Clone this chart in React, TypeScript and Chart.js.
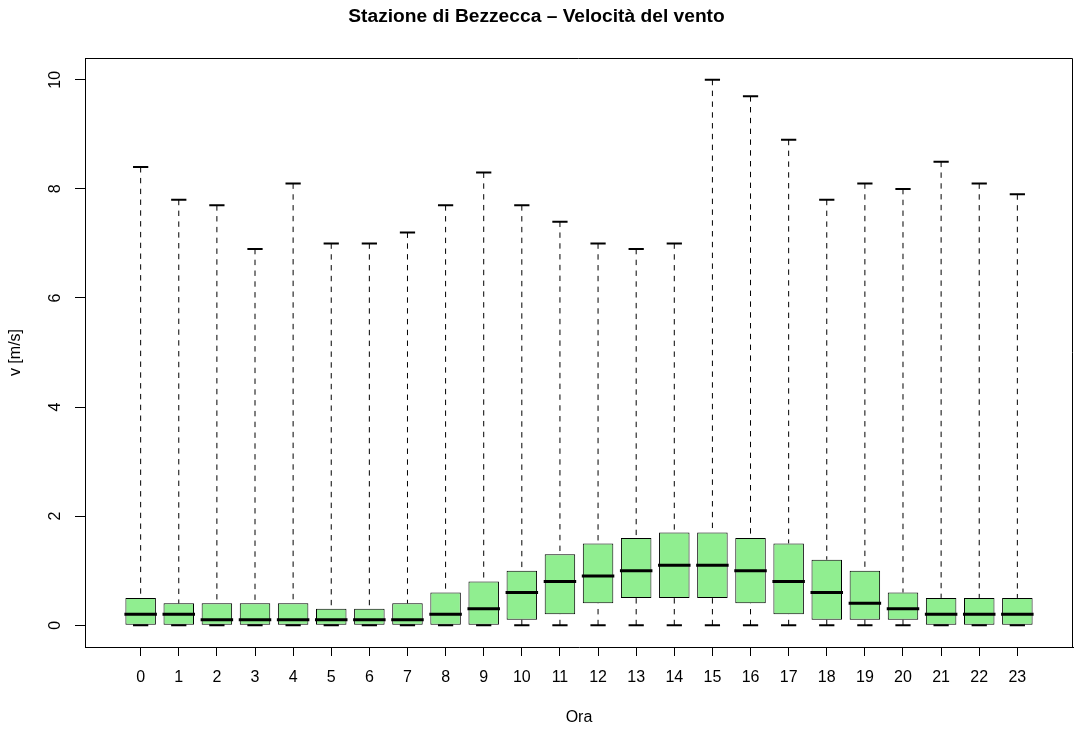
import React, { useEffect, useRef } from 'react';
import { Chart, registerables } from 'chart.js';

Chart.register(...registerables);

// ---- data ----
const hours = ['0', '1', '2', '3', '4', '5', '6', '7', '8', '9', '10', '11', '12', '13', '14', '15', '16', '17', '18', '19', '20', '21', '22', '23'];
const whiskerLow = [0, 0, 0, 0, 0, 0, 0, 0, 0, 0, 0, 0, 0, 0, 0, 0, 0, 0, 0, 0, 0, 0, 0, 0];
const q1 = [0, 0, 0, 0, 0, 0, 0, 0, 0, 0, 0.1, 0.2, 0.4, 0.5, 0.5, 0.5, 0.4, 0.2, 0.1, 0.1, 0.1, 0, 0, 0];
const median = [0.2, 0.2, 0.1, 0.1, 0.1, 0.1, 0.1, 0.1, 0.2, 0.3, 0.6, 0.8, 0.9, 1.0, 1.1, 1.1, 1.0, 0.8, 0.6, 0.4, 0.3, 0.2, 0.2, 0.2];
const q3 = [0.5, 0.4, 0.4, 0.4, 0.4, 0.3, 0.3, 0.4, 0.6, 0.8, 1.0, 1.3, 1.5, 1.6, 1.7, 1.7, 1.6, 1.5, 1.2, 1.0, 0.6, 0.5, 0.5, 0.5];
const whiskerHigh = [8.4, 7.8, 7.7, 6.9, 8.1, 7.0, 7.0, 7.2, 7.7, 8.3, 7.7, 7.4, 7.0, 6.9, 7.0, 10.0, 9.7, 8.9, 7.8, 8.1, 8.0, 8.5, 8.1, 7.9];
const yTicks = [0, 2, 4, 6, 8, 10];

const TITLE = 'Stazione di Bezzecca – Velocità del vento';
const X_TITLE = 'Ora';
const Y_TITLE = 'v [m/s]';

const FONT = "'Liberation Sans', Arial, Helvetica, sans-serif";

const boxPlugin = {
  id: 'boxWhiskers',
  afterDatasetsDraw(chart: any) {
    const { ctx, chartArea } = chart;
    const y = chart.scales.y;
    const meta = chart.getDatasetMeta(0);
    ctx.save();
    ctx.strokeStyle = '#000';
    meta.data.forEach((bar: any, i: number) => {
      const { x, width } = bar.getProps(['x', 'width'], true);
      const yLo = y.getPixelForValue(whiskerLow[i]);
      const yQ1 = y.getPixelForValue(q1[i]);
      const yMed = y.getPixelForValue(median[i]);
      const yQ3 = y.getPixelForValue(q3[i]);
      const yHi = y.getPixelForValue(whiskerHigh[i]);
      // dashed whiskers
      ctx.lineWidth = 1;
      ctx.setLineDash([5.4, 5.4]);
      ctx.beginPath();
      ctx.moveTo(x, yHi);
      ctx.lineTo(x, yQ3);
      if (q1[i] > whiskerLow[i]) {
        ctx.moveTo(x, yLo);
        ctx.lineTo(x, yQ1);
      }
      ctx.stroke();
      ctx.setLineDash([]);
      // staples
      ctx.lineWidth = 2;
      ctx.beginPath();
      ctx.moveTo(x - width / 4, yHi);
      ctx.lineTo(x + width / 4, yHi);
      ctx.moveTo(x - width / 4, yLo);
      ctx.lineTo(x + width / 4, yLo);
      ctx.stroke();
      // median
      ctx.lineWidth = 3;
      ctx.beginPath();
      ctx.moveTo(x - width / 2 - 1, yMed);
      ctx.lineTo(x + width / 2 + 1, yMed);
      ctx.stroke();
    });
    // frame (top and right edges; left & bottom are the axis borders)
    ctx.lineWidth = 1;
    ctx.beginPath();
    const t = Math.round(chartArea.top) + 0.5;
    const r = Math.round(chartArea.right) - 0.5;
    ctx.moveTo(chartArea.left, t);
    ctx.lineTo(r, t);
    ctx.lineTo(r, chartArea.bottom);
    ctx.stroke();
    ctx.restore();
  },
};

export default function App() {
  const ref = useRef<HTMLCanvasElement>(null);

  useEffect(() => {
    const canvas = ref.current;
    if (!canvas) return;
    const chart = new Chart(canvas, {
      type: 'bar',
      data: {
        datasets: [
          {
            data: hours.map((h, i) => ({ x: i, y: [q1[i], q3[i]] })) as any,
            backgroundColor: '#90EE90',
            borderColor: '#000',
            borderWidth: 1,
            borderSkipped: false,
            barPercentage: 0.8,
            categoryPercentage: 1,
          },
        ],
      },
      options: {
        animation: false,
        responsive: false,
        devicePixelRatio: 1,
        events: [],
        layout: { padding: { left: 0, right: 2, top: 0, bottom: 0 } },
        plugins: {
          legend: { display: false },
          tooltip: { enabled: false },
          title: {
            display: true,
            text: TITLE,
            color: '#000',
            font: { family: FONT, size: 19.2, weight: 'bold' },
            padding: { top: 5.5, bottom: 29.5 },
          },
        },
        scales: {
          x: {
            type: 'linear',
            min: -1.46,
            max: 24.46,
            offset: false,
            afterBuildTicks: (scale: any) => {
              scale.ticks = hours.map((_, i) => ({ value: i }));
            },
            afterFit: (scale: any) => {
              scale.height = 89;
            },
            ticks: {
              color: '#000',
              font: { family: FONT, size: 16 },
              padding: 12,
              autoSkip: false,
              maxRotation: 0,
              minRotation: 0,
              callback: (v: any) => hours[v as number],
            },
            grid: {
              offset: false,
              drawOnChartArea: false,
              drawTicks: true,
              tickLength: 9,
              color: '#000',
            },
            border: { display: true, color: '#000', width: 1 },
            title: {
              display: true,
              text: X_TITLE,
              color: '#000',
              font: { family: FONT, size: 16 },
              padding: { top: 0, bottom: 8.9 },
            },
          },
          y: {
            type: 'linear',
            min: -0.4,
            max: 10.4,
            afterBuildTicks: (scale: any) => {
              scale.ticks = yTicks.map((v) => ({ value: v }));
            },
            afterFit: (scale: any) => {
              scale.width = 85;
            },
            ticks: {
              color: '#000',
              font: { family: FONT, size: 16 },
              padding: 11,
              minRotation: 90,
              maxRotation: 90,
              crossAlign: 'center',
              callback: (v: any) => String(v),
            },
            grid: {
              drawOnChartArea: false,
              drawTicks: true,
              tickLength: 10,
              color: '#000',
            },
            border: { display: true, color: '#000', width: 1 },
            title: {
              display: true,
              text: Y_TITLE,
              color: '#000',
              font: { family: FONT, size: 16 },
              padding: { top: 6.4, bottom: 0 },
            },
          },
        },
      } as any,
      plugins: [boxPlugin],
    });
    return () => chart.destroy();
  }, []);

  return (
    <div style={{ position: 'fixed', left: 0, top: 0, width: 1075, height: 736, background: '#fff' }}>
      <canvas ref={ref} width={1075} height={736} style={{ display: 'block' }} />
    </div>
  );
}
